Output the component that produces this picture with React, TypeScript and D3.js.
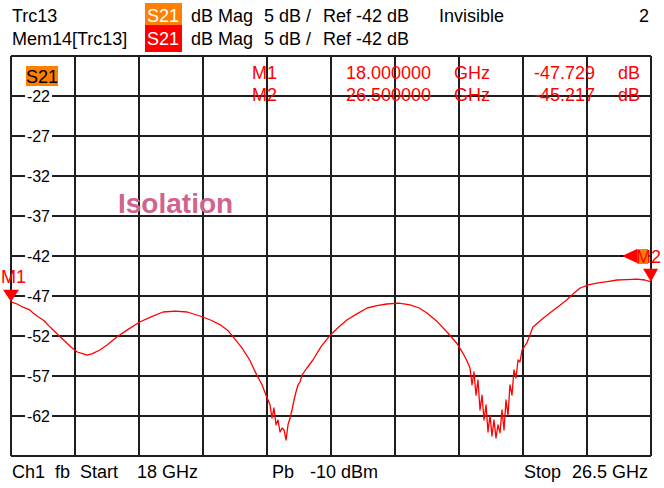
import { useMemo } from 'react'
import * as d3 from 'd3'

// trace: S21 isolation, frequency in GHz, magnitude in dB
const freqGHz = [
  18.0, 18.08, 18.16, 18.24, 18.29, 18.36, 18.44, 18.5, 18.56, 18.64, 18.72, 18.8, 18.88, 18.95,
  19.01, 19.08, 19.18, 19.28, 19.41, 19.55, 19.71, 19.86, 20.02, 20.18, 20.34, 20.51, 20.65,
  20.78, 20.88, 20.95, 21.06, 21.17, 21.26,
  21.334, 21.387, 21.44, 21.466, 21.493, 21.52, 21.546, 21.573, 21.6, 21.626, 21.653, 21.679,
  21.706, 21.732, 21.759, 21.785, 21.812, 21.838, 21.865,
  21.93, 22.01, 22.12, 22.24, 22.35, 22.46, 22.6, 22.73, 22.86, 22.99, 23.15, 23.3, 23.42, 23.52,
  23.66, 23.8, 23.92, 24.0, 24.05,
  24.096, 24.123, 24.149, 24.176, 24.202, 24.229, 24.256, 24.282, 24.309, 24.335, 24.362, 24.388,
  24.415, 24.441, 24.468, 24.495, 24.521, 24.548, 24.574, 24.601, 24.627, 24.654, 24.68, 24.707,
  24.734, 24.76, 24.787,
  24.85, 24.93, 25.04, 25.16, 25.27, 25.38, 25.47, 25.56, 25.67, 25.78, 25.92, 26.05, 26.18,
  26.31, 26.42, 26.5,
]
const s21dB = [
  -47.73, -48.0, -48.4, -48.7, -49.1, -49.6, -50.1, -50.7, -51.25, -52.0, -52.7, -53.4, -54.0, -54.2,
  -54.4, -54.2, -53.75, -53.1, -52.1, -51.2, -50.25, -49.6, -49.0, -48.9, -49.0, -49.5, -50.0,
  -50.6, -51.3, -52.1, -53.4, -55.0, -56.8,
  -58.1, -59.4, -60.6, -62.25, -61.0, -63.1, -62.5, -64.0, -63.5, -63.75, -65.0, -63.1,
  -62.25, -61.25, -60.0, -59.0, -58.1, -57.75, -56.9,
  -56.0, -55.0, -53.3, -51.9, -50.9, -50.0, -49.2, -48.5, -48.2, -48.0, -47.9, -48.1, -48.5, -49.1,
  -50.2, -51.6, -52.9, -54.1, -55.0,
  -56.0, -58.1, -56.5, -59.4, -57.5, -61.25, -59.4, -62.5, -60.6, -64.0, -61.9, -64.5,
  -62.5, -64.75, -63.1, -64.1, -61.25, -63.75, -60.0, -61.9, -58.1, -59.4, -56.25, -57.25,
  -55.0, -55.25, -53.75,
  -52.9, -50.9, -50.0, -49.1, -48.3, -47.5, -46.7, -46.0, -45.6, -45.4, -45.2, -45.0, -44.95,
  -44.9, -45.0, -45.22,
]

const markerNames = ['M1', 'M2']
const markerFreqs = [18.0, 26.5]
const markerDb = [-47.729, -45.217]
const markerFreqText = ['18.000000', '26.500000']
const markerDbText = ['-47.729', '-45.217']

const yTickValues = [-67, -62, -57, -52, -47, -42, -37, -32, -27, -22, -17]
const yTickLabels = ['-22', '-27', '-32', '-37', '-42', '-47', '-52', '-57', '-62']
const xDivisions = 10
const startGHz = 18
const stopGHz = 26.5
const refDb = -42

const W = 664
const H = 488
const FONT = '"Liberation Sans", Arial, sans-serif'
const ORANGE = '#ff8000'
const RED = '#ff0000'
const GRID = '#1e1e1e'

export default function App() {
  const x = d3.scaleLinear().domain([startGHz, stopGHz]).range([11, 651])
  const y = d3.scaleLinear().domain([-67, -17]).range([456, 56])

  const xTicks = useMemo(() => d3.ticks(0, xDivisions, xDivisions).map(i => startGHz + (i * (stopGHz - startGHz)) / xDivisions), [])

  const line = d3
    .line<number>()
    .x((_, i) => x(freqGHz[i]))
    .y(d => y(d))

  const m1x = x(markerFreqs[0])
  const m1y = y(markerDb[0])
  const m2x = x(markerFreqs[1])
  const m2y = y(markerDb[1])
  const refY = y(refDb)

  const txt = (s: string, tx: number, ty: number, fill = '#000', extra: any = {}) => (
    <text x={tx} y={ty} fill={fill} fontSize={18} fontFamily={FONT} {...extra}>
      {s}
    </text>
  )

  return (
    <svg width={W} height={H} style={{ position: 'absolute', left: 0, top: 0, background: '#fff' }}>
      <rect width={W} height={H} fill="#fff" />

      {/* header lines */}
      {txt('Trc13', 12, 22)}
      <rect x={145} y={3} width={37} height={22} fill={ORANGE} />
      {txt('S21', 147, 22, '#fff')}
      {txt('dB Mag', 191, 22)}
      {txt('5 dB /', 264, 22)}
      {txt('Ref -42 dB', 323, 22)}
      {txt('Invisible', 439, 22)}
      {txt('2', 639, 22)}

      {txt('Mem14[Trc13]', 12, 45)}
      <rect x={145} y={25} width={37} height={27} fill={RED} />
      {txt('S21', 147, 45, '#fff')}
      {txt('dB Mag', 191, 45)}
      {txt('5 dB /', 264, 45)}
      {txt('Ref -42 dB', 323, 45)}

      {/* grid */}
      <g stroke={GRID} strokeWidth={1.3} shapeRendering="crispEdges">
        {xTicks.map(t => (
          <line key={'x' + t} x1={x(t)} x2={x(t)} y1={y(-17)} y2={y(-67)} />
        ))}
        {yTickValues.map(t => (
          <line key={'y' + t} x1={x(startGHz)} x2={x(stopGHz)} y1={y(t)} y2={y(t)} />
        ))}
      </g>

      {/* y labels with white boxes */}
      {yTickLabels.map(l => (
        <g key={l}>
          <rect x={25} y={y(+l) - 7} width={27} height={14} fill="#fff" />
          <text x={50} y={y(+l) + 6} textAnchor="end" fontSize={16} fontFamily={FONT} fill="#000">
            {l}
          </text>
        </g>
      ))}

      <rect x={26} y={66} width={32} height={20} fill={ORANGE} />
      {txt('S21', 26, 83)}

      {txt('Isolation', 118, 213, '#d0648c', { fontSize: 28, fontWeight: 'bold' })}

      {/* marker table */}
      {markerNames.map((m, i) => (
        <g key={m}>
          {txt(m, 252, 79 + i * 22, RED)}
          {txt(markerFreqText[i], 346, 79 + i * 22, RED)}
          {txt('GHz', 454, 79 + i * 22, RED)}
          {txt(markerDbText[i], 534, 79 + i * 22, RED)}
          {txt('dB', 618, 79 + i * 22, RED)}
        </g>
      ))}

      {/* trace */}
      <path d={line(s21dB) || ''} fill="none" stroke={RED} strokeWidth={1.3} strokeLinejoin="round" />

      {/* markers */}
      <path d={`M${m1x - 8},${m1y - 12} L${m1x + 8},${m1y - 12} L${m1x},${m1y} Z`} fill={RED} />
      {txt('M1', 1, m1y - 19, RED)}
      <path d={`M${m2x - 8},${m2y - 13} L${m2x + 7},${m2y - 13} L${m2x},${m2y} Z`} fill={RED} />

      {/* reference level arrow */}
      <line x1={621} x2={627} y1={refY} y2={refY} stroke="#000" strokeWidth={1.5} />
      <path d={`M622,${refY} L637,${refY - 7} L637,${refY + 7} Z`} fill={RED} />
      <rect x={637} y={refY - 7} width={11} height={15} fill={ORANGE} />
      {txt('M2', 636, refY + 7, RED)}

      {/* footer */}
      {txt('Ch1', 12, 478)}
      {txt('fb', 55, 478)}
      {txt('Start', 80, 478)}
      {txt('18 GHz', 137, 478)}
      {txt('Pb', 272, 478)}
      {txt('-10 dBm', 310, 478)}
      {txt('Stop', 524, 478)}
      {txt('26.5 GHz', 648, 478, '#000', { textAnchor: 'end' })}
    </svg>
  )
}
